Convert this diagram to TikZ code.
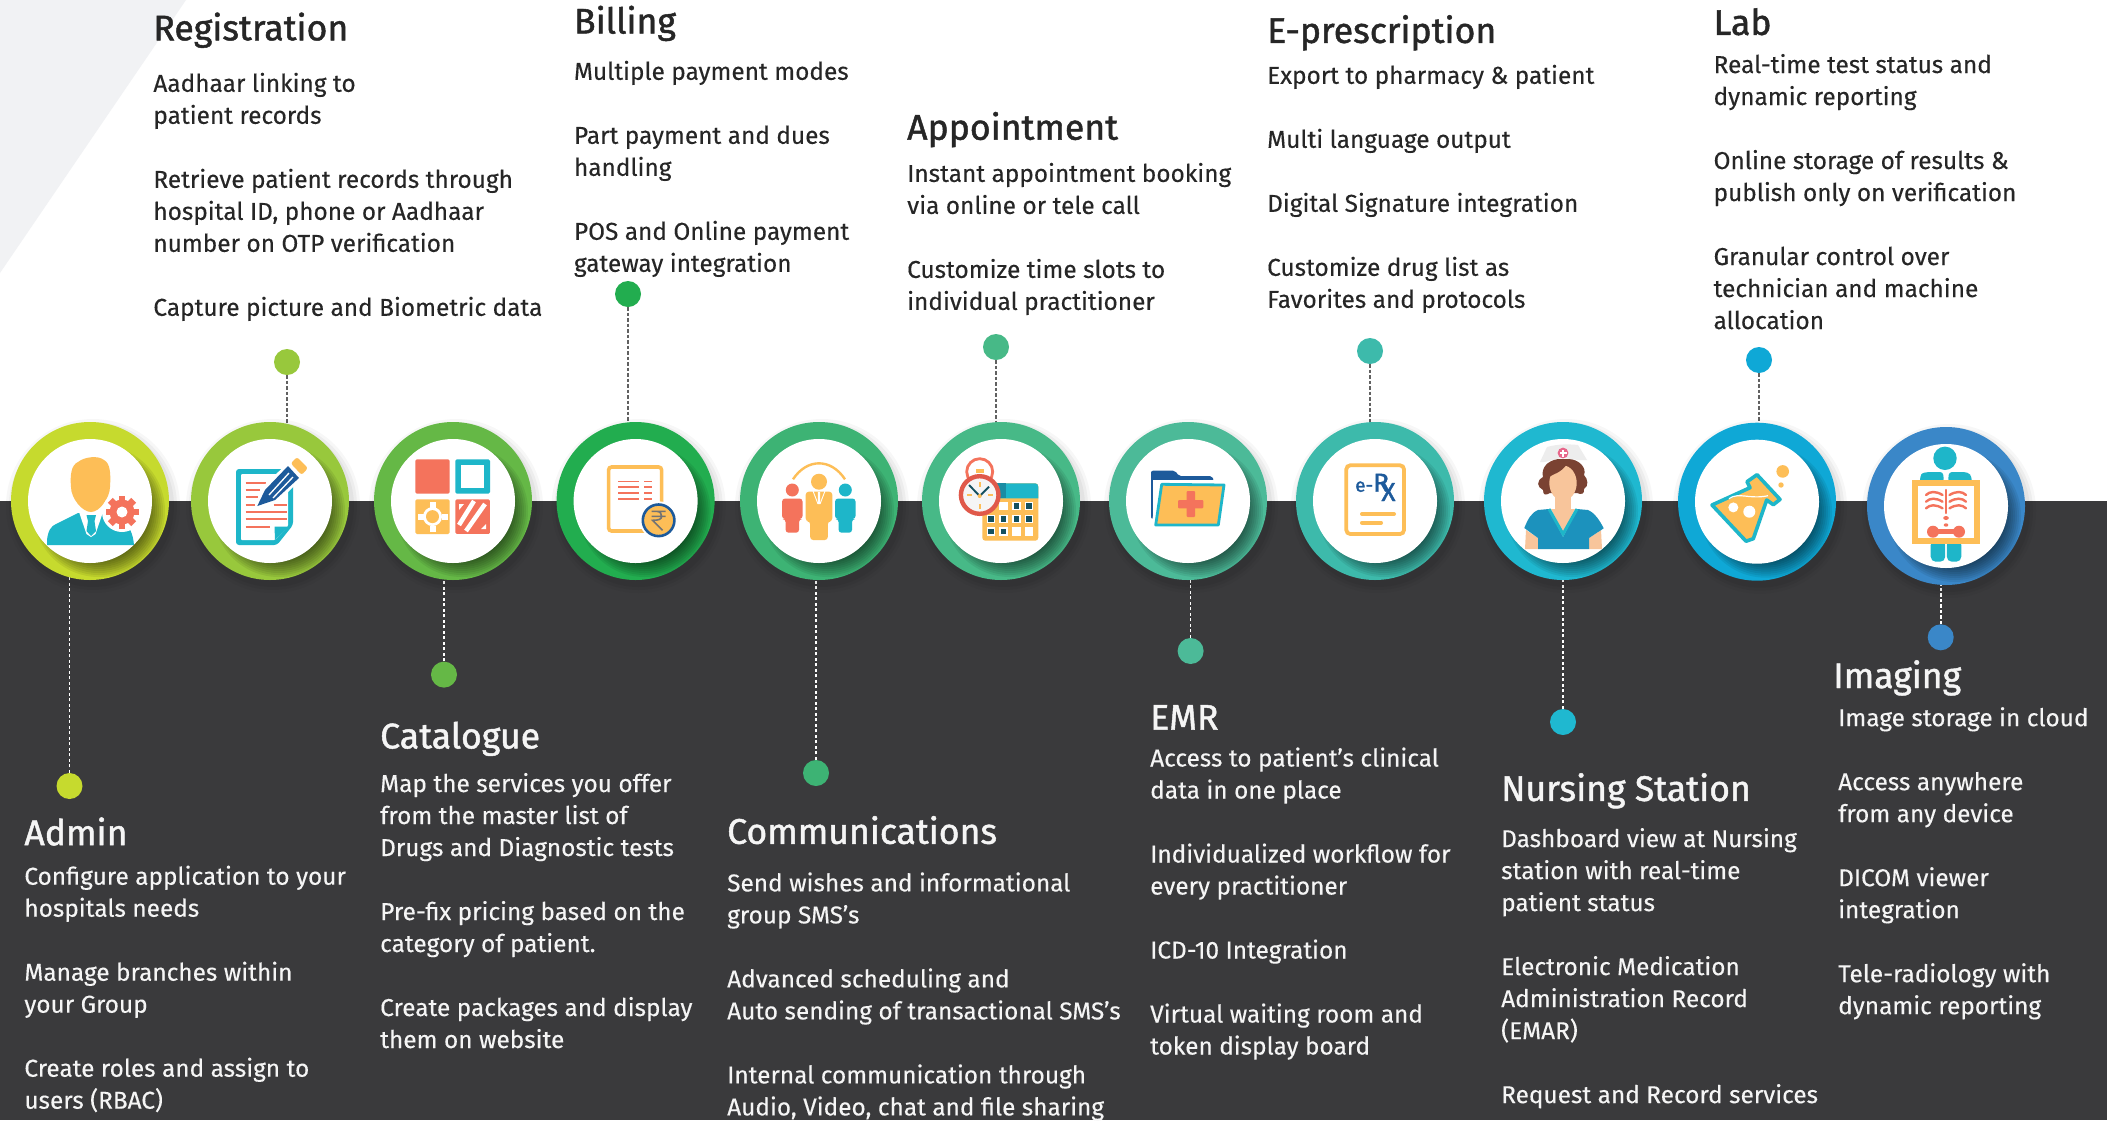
\documentclass[tikz,border=0pt]{standalone}
\usepackage{fontspec}
\setmainfont[FakeBold=0.25]{Fira Sans}
\newfontfamily\headfont[FakeBold=1.3]{Fira Sans}
\newfontfamily\rxfont[FakeBold=1.6]{Fira Sans}
\usetikzlibrary{calc}
\pgfdeclarelayer{bg}\pgfdeclarelayer{conn}\pgfsetlayers{bg,conn,main}
\definecolor{darkbg}{HTML}{3A3A3C}
\definecolor{paletri}{HTML}{F1F2F4}
\definecolor{iorange}{HTML}{FDBE57}
\definecolor{icoral}{HTML}{F4735C}
\definecolor{iteal}{HTML}{1EB6C9}
\definecolor{inavy}{HTML}{1D5A9B}
\definecolor{iscrub}{HTML}{1C92BD}
\definecolor{iskin}{HTML}{F8C59B}
\definecolor{ihair}{HTML}{7A4232}
\definecolor{icap}{HTML}{EDEDED}
\definecolor{ipink}{HTML}{E8668A}
\definecolor{iclock}{HTML}{E0594A}
\definecolor{ihead}{HTML}{1A8CA3}
\definecolor{isquare}{HTML}{14505F}
\definecolor{cA}{HTML}{C6DA2E}\definecolor{cB}{HTML}{98C83C}\definecolor{cC}{HTML}{65B846}
\definecolor{cD}{HTML}{22AD4F}\definecolor{cE}{HTML}{3DB374}\definecolor{cF}{HTML}{47B987}
\definecolor{cG}{HTML}{4CBA98}\definecolor{cH}{HTML}{3DBAAB}\definecolor{cI}{HTML}{1FB8D0}
\definecolor{cJ}{HTML}{0FA8D6}\definecolor{cK}{HTML}{3A87C8}
\tikzset{
 x=1pt,y=-1pt,
 ringnode/.style={circle,minimum size=158pt,inner sep=0pt,draw=none},
 corenode/.style={circle,minimum size=124pt,inner sep=0pt,fill=white,draw=none},
 dotnode/.style={circle,minimum size=26pt,inner sep=0pt,draw=none},
 dashtop/.style={line width=1.9pt,color=black!62,dash pattern=on 3.3pt off 2.2pt},
 dashbot/.style={line width=1.7pt,color=white,dash pattern=on 3.3pt off 2.2pt},
 headtxt/.style={anchor=base west,inner sep=0pt,yshift=-1pt,font=\headfont\fontsize{35.6}{38}\selectfont},
 bodytxt/.style={anchor=north west,inner sep=0pt,align=left,yshift=22.4pt,font=\fontsize{24.4}{32}\selectfont},
 ontop/.style={text=black!85},
 onbot/.style={text=white!96!black},
}
\newcommand\parabreak{\\[32pt]}
\newcommand\blk[7]{%
 \node[headtxt,#7] (#1h) at (#2,#3) {#5};
 \node[bodytxt,#7] (#1b) at (#2,#4) {\strut #6};}
\newcommand\ringat[4]{%
 \fill[black,opacity=.04] ($(#2,#3)+(3,5)$) circle (81);
 \fill[black,opacity=.04] ($(#2,#3)+(3,5)$) circle (84);
 \fill[black,opacity=.03] ($(#2,#3)+(3,5)$) circle (87);
 \node[ringnode,fill=#4] (#1) at (#2,#3) {};
 \begin{scope}
  \clip (#2,#3) circle (79);
  \foreach \rr in {50,52,...,66} {\fill[black,opacity=.07] ($(#2,#3)+(9,10)$) circle (\rr);}
 \end{scope}
 \node[corenode] (#1c) at (#2,#3) {};}
\newcommand\iconAdmin{%
 \fill[iteal] (-43,44) -- (-43,39) .. controls (-42,30) and (-39,25) .. (-34,23) -- (-12,12) -- (13,12) -- (34,22) .. controls (39,25) and (43,32) .. (44,44) -- cycle;
 \fill[white] (-11,11) -- (-3.5,33) -- (1,36) -- (5.5,33) -- (13,11) -- cycle;
 \fill[iteal] (-3.5,14) -- (6,14) -- (4.5,20) -- (6,30) -- (1,35) -- (-3.5,30) -- (-2,20) -- cycle;
 \fill[iorange] (-19,-14) .. controls (-20,-25) and (-19,-36) .. (-12,-39) .. controls (-6,-44) and (8,-46) .. (14,-41) .. controls (20,-38) and (21,-28) .. (20,-14) .. controls (20,-4) and (10,11) .. (1,11) .. controls (-8,11) and (-19,-3) .. (-19,-14) -- cycle;
 \fill[white] (32,11) circle (20);
 \fill[icoral] (32,11) circle (12.5);
 \foreach \a in {0,45,...,315} {\fill[icoral,shift={(32,11)},rotate=\a] (-3.4,-16.5) rectangle (3.4,0);}
 \fill[white] (32,11) circle (5.5);}
\newcommand\iconReg{%
 \fill[iteal,rounded corners=3pt] (-34,-32) -- (23,-32) -- (23,24) -- (7,44) -- (-34,44) -- cycle;
 \fill[white,rounded corners=1pt] (-29,-27) -- (18,-27) -- (18,25) -- (5,39) -- (-29,39) -- cycle;
 \fill[iteal] (4.5,25.5) -- (18,25.5) -- (5,39) -- cycle;
 \begin{scope}[line width=1.7pt,draw=icoral]
 \draw (-24.3,-18.3) -- (-4,-18.3);\draw (-24.3,-11) -- (-10.5,-11);\draw (-24.3,-3.7) -- (-12.5,-3.7);
 \draw (-24.3,4.3) -- (-15.5,4.3);\draw (3.5,4.3) -- (17,4.3);\draw (-24.3,11) -- (17,11);\draw (-24.3,18.3) -- (17,18.3);\draw (-24.3,26.3) -- (0,26.3);
 \end{scope}
 \fill[white] (-16,8) -- (-8,-14) -- (19,-39) -- (33,-24) -- (8,1) -- cycle;
 \fill[inavy] (-12.7,5) -- (-5,-11) -- (18,-35) -- (29,-23) -- (5,-1) -- cycle;
 \draw[white,line width=1.3pt] (-1,-6) -- (19,-28);\draw[white,line width=1.3pt] (3,-3) -- (23,-24);
 \fill[iorange,rounded corners=2.5pt] (27,-44) -- (38,-33) -- (31.7,-26) -- (20.7,-37.7) -- cycle;}
\newcommand\iconCat{%
 \fill[icoral,rounded corners=1.5pt] (-37.7,-41.7) rectangle (-3.3,-7.3);
 \fill[iteal,rounded corners=1.5pt] (2.3,-41.7) rectangle (37,-7.3);
 \fill[white] (8.3,-35.7) rectangle (31,-13.3);
 \fill[iorange,rounded corners=1.5pt] (-37.7,-1.7) rectangle (-3.3,33);
 \fill[white] (-20.5,15.6) circle (9.5);
 \foreach \dx/\dy in {-12/0,12/0,0/-12,0/12} {\fill[white] ($(-20.5,15.6)+(\dx,\dy)+(-3,-3)$) rectangle ++(6,6);}
 \fill[iorange] (-20.5,15.6) circle (6.5);
 \begin{scope}
  \path[clip,rounded corners=1.5pt] (2.3,-1.7) rectangle (37,33);
  \fill[icoral] (2.3,-1.7) rectangle (37,33);
  \draw[white,line width=4.5pt] (6,24) -- (21,0);
  \draw[white,line width=4.5pt] (13,30) -- (32,3);
  \fill[white] (6,3) -- (11,3) -- (6,9) -- cycle;
  \fill[white] (33,28) -- (33,23) -- (28,28) -- cycle;
 \end{scope}}
\newcommand\iconBill{%
 \draw[iorange,line width=3.6pt,rounded corners=3pt] (-27,-34) rectangle (26,30);
 \foreach \yy in {-19.3,-14,-8,-2} {\draw[icoral,line width=1.4pt] (-17.3,\yy) -- (3.3,\yy);\draw[icoral,line width=1.4pt] (8.7,\yy) -- (16.7,\yy);}
 \fill[white] (23,19.3) circle (19);
 \draw[inavy,line width=2.6pt,fill=iorange] (23,19.3) circle (15.8);
 \begin{scope}[shift={(23,19.3)}]
 \draw[black!55,line width=1.6pt] (-7,-9) -- (7,-9) (-7,-4) -- (7,-4) (-7,-9) -- (-2,-9) .. controls (2,-9) and (3,-6) .. (3,-4) .. controls (3,-1) and (0,0) .. (-6,0) -- (4,10);
 \end{scope}}
\newcommand\personat[6]{% x,headcy,headr,halfwidth,bottom,colour
 \fill[#6] (#1,#2) circle (#3);
 \fill[#6,rounded corners=3pt] ($(#1,#2)+(-#4,#3+2)$) -- ($(#1,#2)+(#4,#3+2)$) -- ($(#1,#5)+(#4,{-(#5-#2)*.32})$) -- ($(#1,#5)+(#4*.66,{-(#5-#2)*.32})$) -- (#1+#4*.66,#5) -- (#1-#4*.66,#5) -- ($(#1,#5)+(-#4*.66,{-(#5-#2)*.32})$) -- ($(#1,#5)+(-#4,{-(#5-#2)*.32})$) -- cycle;}
\newcommand\iconComm{%
 \draw[iorange,line width=2.4pt] (-26,-21.7) .. controls (-12,-43) and (12,-43) .. (26,-21.7);
 \personat{-26.7}{-11}{6.5}{10.2}{31.7}{icoral}
 \personat{26.3}{-11}{6.5}{10.2}{31.7}{iteal}
 \personat{0}{-19.3}{8}{13.3}{39}{iorange}
 \draw[white,line width=.9pt] (-6,-10) -- (-1,3) (6,-10) -- (1,3);
 \fill[white] (-1.2,-9) -- (1.2,-9) -- (1,3) -- (-1,3) -- cycle;}
\newcommand\iconAppt{%
 \fill[iorange,rounded corners=3pt] (-18.7,-17.7) rectangle (37.3,39.7);
 \fill[iteal] (-7,-17.7) -- (34,-17.7) .. controls (36,-17.7) and (37.3,-16.5) .. (37.3,-14) -- (37.3,-2.7) -- (-7,-2.7) -- cycle;
 \fill[ihead] (-7,-17.7) rectangle (4.7,-2.7);
 \foreach \xx/\yy/\cc in {2.7/5/0,15.3/5/1,28/5/1,-10/18/1,2.7/18/1,15.3/18/1,28/18/1,-10/30.7/1,2.7/30.7/1,15.3/30.7/0,28/30.7/0} {%
  \fill[white] ($(\xx,\yy)+(-4.3,-4.3)$) rectangle ++(8.6,8.6);
  \ifnum\cc=1 \fill[isquare] ($(\xx,\yy)+(-2.7,-2.7)$) rectangle ++(5.4,5.4);\fi}
 \draw[icoral,line width=2.8pt] (-21.3,-29.3) circle (13);
 \fill[iorange] (-25.5,-32) rectangle (-17,-28);
 \draw[iclock,line width=4.4pt,fill=black!4] (-21.3,-6) circle (18.8);
 \fill[iorange] (-22.2,-19) rectangle (-20.4,-14);\fill[iorange] (-22.2,3) rectangle (-20.4,8);
 \fill[iorange] (-34.5,-6.9) rectangle (-29.5,-5.1);\fill[iorange] (-13,-6.9) rectangle (-8,-5.1);
 \draw[isquare,line width=1.9pt] (-32,-16) -- (-21.3,-5) -- (-12,-14.3);
 \fill[iorange] (-21.3,-5) circle (2);}
\newcommand\iconEmr{%
 \fill[inavy,rounded corners=2pt] (-37,18) -- (-37,-30.3) -- (-13,-30.3) -- (-9,-25) -- (24,-25) -- (26,-20) -- (0,10) -- cycle;
 \fill[white] (-34.8,19) -- (-34.8,-21) -- (30,-21) -- (30,0) -- (-20,30) -- cycle;
 \draw[white,line width=8pt,line join=round] (-26.3,-16.7) -- (36,-16) -- (30.3,24) -- (-32.3,24) -- cycle;
 \draw[iteal,line width=2.8pt,fill=iorange,line join=round] (-26.3,-16.7) -- (36,-16) -- (30.3,24) -- (-32.3,24) -- cycle;
 \fill[icoral,rounded corners=1pt] (-1.5,-10) rectangle (7,16);
 \fill[icoral,rounded corners=1pt] (-10,-1) rectangle (15.3,7.3);}
\newcommand\iconErx{%
 \draw[iorange,line width=3.8pt,rounded corners=4pt] (-28.7,-35.7) rectangle (29,33);
 \node[text=inavy,font=\rxfont,anchor=base west,inner sep=0pt] (erxt) at (-20,-9.3) {\fontsize{19}{19}\selectfont e-\fontsize{26}{26}\selectfont R\kern-7.5pt\raisebox{-9.3pt}{X}};
 \draw[iorange,line width=4pt,line cap=round] (-13,13) -- (19,13) (-13,21.7) -- (6,21.7);}
\newcommand\iconNurse{%
 \fill[icap] (-16,-54) .. controls (-5,-57) and (5,-57) .. (15,-56) -- (24,-41) .. controls (15,-40) and (5,-43) .. (0,-43) .. controls (-8,-43) and (-16,-38) .. (-23,-39) -- cycle;
 \fill[ihair] (-5,-42) .. controls (-17,-40) and (-22,-32) .. (-20,-24) .. controls (-27,-20) and (-26,-14) .. (-20,-11) .. controls (-20,-5) and (-17,-6) .. (-13,-8) -- (14,-8) .. controls (18,-6) and (22,-7) .. (21,-12) .. controls (26,-15) and (25,-22) .. (21,-26) .. controls (24,-33) and (16,-42) .. (5,-42) -- cycle;
 \fill[ipink] (0,-48) circle (5.4);
 \fill[white] (-3.5,-49) rectangle (3.5,-47);\fill[white] (-1,-51.5) rectangle (1,-44.5);
 \fill[iskin] (-37,29) -- (-25,37) -- (-25,48) -- (-38,48) -- cycle;
 \fill[iskin] (38,29) -- (26,37) -- (26,48) -- (39,48) -- cycle;
 \fill[iscrub] (-25,48) -- (-25,37) -- (-38.7,27) .. controls (-35,18) and (-32,12) .. (-25,9) -- (-14,8) -- (0,36) -- (14,8) -- (25,9) .. controls (32,12) and (37,20) .. (40.7,27.3) -- (26,37) -- (26,48) -- cycle;
 \fill[iskin] (-8,-8) rectangle (8,8);
 \fill[iskin] (-12,8) -- (12,8) -- (0,32) -- cycle;
 \draw[iteal,line width=3pt,line join=miter] (-14,8) -- (0,33) -- (14,8);
 \fill[iskin] (0,-18) ellipse [x radius=13.7,y radius=17.5];
 \fill[ihair] (-14,-24) .. controls (-10,-27) and (-2,-28) .. (4,-37) .. controls (-4,-38) and (-13,-36) .. (-15,-24) -- cycle;}
\newcommand\iconLab{%
 \draw[iteal,line width=3.6pt,fill=iorange,line join=round] (-45,3.3) -- (-7,-14) -- (-10,-20) -- (0,-27) -- (23,-2.3) -- (16.3,3) -- (9.7,-1.7) -- (-3.7,37) -- (-11,39.5) -- cycle;
 \draw[white,line width=1.2pt] (-28,-3) .. controls (-18,-10) and (-8,-2) .. (11,-6);
 \fill[white] (-23.7,5.7) circle (5);
 \fill[white] (-7.7,10) circle (6);
 \fill[iorange] (25.7,-30.3) circle (6.3);
 \fill[iorange] (24,-16.7) circle (2.7);}
\newcommand\iconImg{%
 \fill[iteal] (-1,-47.7) circle (11.7);
 \fill[iteal,rounded corners=3pt] (-26,-24) -- (-26,-29) .. controls (-24,-33) and (-20,-34) .. (-14,-34) -- (-3,-34) -- (-2,-24) -- cycle;
 \fill[iteal,rounded corners=3pt] (25.7,-24) -- (25.7,-29) .. controls (23,-33) and (20,-34) .. (14,-34) -- (3,-34) -- (2,-24) -- cycle;
 \fill[iteal,rounded corners=5pt] (-15.3,34) rectangle (-0.8,55.7);
 \fill[iteal,rounded corners=5pt] (0.8,34) rectangle (15.3,55.7);
 \fill[iorange] (-34,-26) rectangle (34,38);
 \fill[white] (-28,-20) rectangle (28,32);
 \begin{scope}[line width=2.4pt,line cap=round,draw=icoral]
 \draw (0,-16) -- (0,7);
 \foreach \yy in {-11,-4.3,2.3} {
 \draw (-3.5,\yy) .. controls (-10,{\yy-4}) and (-16,{\yy-4}) .. (-20,\yy);
 \draw (3.5,\yy) .. controls (10,{\yy-4}) and (16,{\yy-4}) .. (20,\yy);}
 \end{scope}
 \fill[icoral] (0,12) ellipse [x radius=2.8,y radius=2];
 \fill[icoral] (0,19) ellipse [x radius=2.3,y radius=1.7];
 \fill[icoral] (-13,25.7) circle (6);\fill[icoral] (13,25.7) circle (6);
 \fill[icoral] (-13,23.2) rectangle (13,28.2);}
\newcommand\iconat[3]{\begin{scope}[shift={(#1,#2)}]#3\end{scope}}
\begin{document}
\begin{tikzpicture}
\useasboundingbox (0,0) rectangle (2107,1120);
\begin{pgfonlayer}{bg}
 \fill[white] (0,0) rectangle (2107,1120);
 \fill[paletri] (0,0) -- (186,0) -- (0,273) -- cycle;
 \fill[darkbg] (0,500.7) rectangle (2107,1120);
\end{pgfonlayer}
% rings
\ringat{r1}{90}{501}{cA}
\ringat{r2}{270}{501}{cB}
\ringat{r3}{453}{501}{cC}
\ringat{r4}{635.6}{501}{cD}
\ringat{r5}{819}{501}{cE}
\ringat{r6}{1001}{501}{cF}
\ringat{r7}{1188}{501}{cG}
\ringat{r8}{1375}{501}{cH}
\ringat{r9}{1563}{501}{cI}
\ringat{r10}{1757}{501.7}{cJ}
\ringat{r11}{1946}{506}{cK}
% icons
\iconat{90}{501}{\iconAdmin}
\iconat{270}{501}{\iconReg}
\iconat{453}{501}{\iconCat}
\iconat{635.6}{501}{\iconBill}
\iconat{819}{501}{\iconComm}
\iconat{1001}{501}{\iconAppt}
\iconat{1188}{501}{\iconEmr}
\iconat{1375}{501}{\iconErx}
\iconat{1563}{501}{\iconNurse}
\iconat{1757}{501.7}{\iconLab}
\iconat{1946}{506}{\iconImg}
% dots
\node[dotnode,fill=cA] (d1) at (69.5,786) {};
\node[dotnode,fill=cB] (d2) at (287,362) {};
\node[dotnode,fill=cC] (d3) at (444,674.6) {};
\node[dotnode,fill=cD] (d4) at (628,294) {};
\node[dotnode,fill=cE] (d5) at (816,773) {};
\node[dotnode,fill=cF] (d6) at (996,347) {};
\node[dotnode,fill=cG] (d7) at (1190.6,651) {};
\node[dotnode,fill=cH] (d8) at (1370,351) {};
\node[dotnode,fill=cI] (d9) at (1563,722) {};
\node[dotnode,fill=cJ] (d10) at (1759,360) {};
\node[dotnode,fill=cK] (d11) at (1940.7,637.3) {};
\begin{pgfonlayer}{conn}
 \draw[dashbot] (d1) -- (d1 |- r1.center);
 \draw[dashtop] (d2) -- (d2 |- r2.center);
 \draw[dashbot] (d3) -- (d3 |- r3.center);
 \draw[dashtop] (d4) -- (d4 |- r4.center);
 \draw[dashbot] (d5) -- (d5 |- r5.center);
 \draw[dashtop] (d6) -- (d6 |- r6.center);
 \draw[dashbot] (d7) -- (d7 |- r7.center);
 \draw[dashtop] (d8) -- (d8 |- r8.center);
 \draw[dashbot] (d9) -- (d9 |- r9.center);
 \draw[dashtop] (d10) -- (d10 |- r10.center);
 \draw[dashbot] (d11) -- (d11 |- r11.center);
\end{pgfonlayer}
% text
\blk{reg}{153.2}{39.3}{91.6}{Registration}{Aadhaar linking to\\patient records\parabreak Retrieve patient records through\\hospital ID, phone or Aadhaar\\number on OTP verification\parabreak Capture picture and Biometric data}{ontop}
\blk{bill}{573.8}{32.5}{79.6}{Billing}{Multiple payment modes\parabreak Part payment and dues\\handling\parabreak POS and Online payment\\gateway integration}{ontop}
\blk{appt}{907}{138.7}{181.7}{Appointment}{Instant appointment booking\\via online or tele call\parabreak Customize time slots to\\individual practitioner}{ontop}
\blk{erx}{1267}{41.9}{83.6}{E-prescription}{Export to pharmacy \& patient\parabreak Multi language output\parabreak Digital Signature integration\parabreak Customize drug list as\\Favorites and protocols}{ontop}
\blk{lab}{1713.4}{33.9}{72.8}{Lab}{Real-time test status and\\dynamic reporting\parabreak Online storage of results \&\\publish only on verification\parabreak Granular control over\\technician and machine\\allocation}{ontop}
\blk{adm}{24.2}{844.2}{884.5}{Admin}{Configure application to your\\hospitals needs\parabreak Manage branches within\\your Group\parabreak Create roles and assign to\\users (RBAC)}{onbot}
\blk{cat}{380}{747.4}{791.8}{Catalogue}{Map the services you offer\\from the master list of\\Drugs and Diagnostic tests\parabreak Pre-fix pricing based on the\\category of patient.\parabreak Create packages and display\\them on website}{onbot}
\blk{com}{727}{842.8}{891.2}{Communications}{Send wishes and informational\\group SMS’s\parabreak Advanced scheduling and\\Auto sending of transactional SMS’s\parabreak Internal communication through\\Audio, Video, chat and file sharing}{onbot}
\blk{emr}{1150}{728.6}{766.3}{EMR}{Access to patient’s clinical\\data in one place\parabreak Individualized workflow for\\every practitioner\parabreak ICD-10 Integration\parabreak Virtual waiting room and\\token display board}{onbot}
\blk{nur}{1501}{799.9}{846.9}{Nursing Station}{Dashboard view at Nursing\\station with real-time\\patient status\parabreak Electronic Medication\\Administration Record\\(EMAR)\parabreak Request and Record services}{onbot}
\node[headtxt,onbot] (imgh) at (1833,687) {Imaging};
\node[bodytxt,onbot] (imgb) at (1838,726) {\strut Image storage in cloud\parabreak Access anywhere\\from any device\parabreak DICOM viewer\\integration\parabreak Tele-radiology with\\dynamic reporting};
\end{tikzpicture}
\end{document}
